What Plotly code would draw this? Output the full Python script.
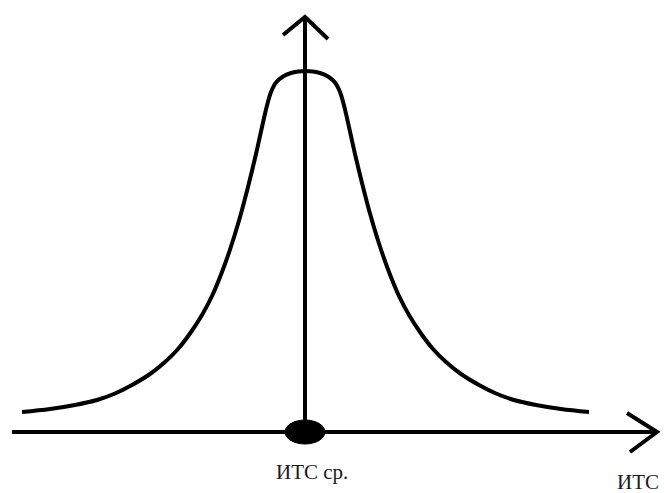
import plotly.graph_objects as go

# Bell-shaped curve (x position, height above the horizontal axis)
curve_x = [22, 50, 75, 97, 115, 132, 150, 165, 178, 190, 202, 212, 222, 232, 241, 249,
           256, 262, 267, 271, 276, 283, 291, 298, 305.5,
           313, 320, 328, 335, 340, 344, 349, 355, 362, 370, 379, 389, 399, 409,
           421, 433, 446, 461, 479, 496, 514, 536, 561, 589]
curve_y = [20, 23, 27, 32, 38.5, 47, 58, 70, 83, 98.5, 117, 136, 160, 188.5, 218.5, 249,
           278, 305, 326.5, 340, 349.5, 355.5, 359, 360.4, 361,
           360.4, 359, 355.5, 349.5, 340, 326.5, 305, 278, 249, 218.5, 188.5, 160, 136, 117,
           98.5, 83, 70, 58, 47, 38.5, 32, 27, 23, 20]

# Axes (shaft and arrow wings)
vaxis_x = [305, 305]
vaxis_y = [0, 415]
varrow_x = [283, 305, 328]
varrow_y = [397, 415, 393]
haxis_x = [12, 657]
haxis_y = [0, 0]
harrow_x = [627, 657, 630]
harrow_y = [19, 0, -20]

# Mean point and labels
mean_x = 305
mean_label = "ИТС ср."
axis_label = "ИТС"

fig = go.Figure()
line = dict(color="black", width=4)
fig.add_trace(go.Scatter(x=curve_x, y=curve_y, mode="lines",
                         line=dict(color="black", width=4, shape="spline", smoothing=1.0)))
fig.add_trace(go.Scatter(x=vaxis_x, y=vaxis_y, mode="lines", line=line))
fig.add_trace(go.Scatter(x=varrow_x, y=varrow_y, mode="lines", line=line))
fig.add_trace(go.Scatter(x=haxis_x, y=haxis_y, mode="lines", line=line))
fig.add_trace(go.Scatter(x=harrow_x, y=harrow_y, mode="lines", line=line))

fig.add_shape(type="circle", xref="x", yref="y",
              x0=mean_x - 20, x1=mean_x + 20, y0=-12, y1=12,
              fillcolor="black", line=dict(color="black", width=1))

font = dict(family="Liberation Serif, Times New Roman, serif", size=21, color="#1a1a1a")
fig.add_annotation(x=mean_x + 7, y=-40, text=mean_label, showarrow=False, font=font)
fig.add_annotation(x=638, y=-50, text=axis_label, showarrow=False, font=font, borderpad=0)

fig.update_layout(
    width=664, height=493,
    margin=dict(l=0, r=0, t=0, b=0),
    paper_bgcolor="white", plot_bgcolor="white",
    showlegend=False,
    xaxis=dict(range=[0, 664], visible=False, fixedrange=True),
    yaxis=dict(range=[-61, 432], visible=False, fixedrange=True),
)

fig.write_html("out.html", config={"displayModeBar": False},
               post_script="document.body.style.margin='0';document.body.style.overflow='hidden';")
